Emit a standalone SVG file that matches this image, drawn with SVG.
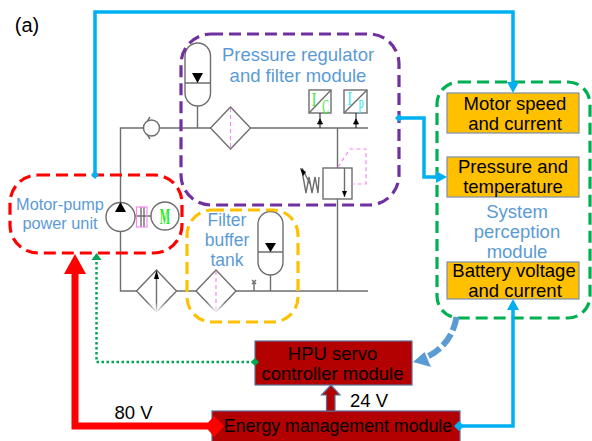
<svg xmlns="http://www.w3.org/2000/svg" width="592" height="441" viewBox="0 0 592 441">
<style>
text{font-family:"Liberation Sans",Arial,sans-serif;text-anchor:middle}
.lbl{fill:#5b9bd5;font-size:18.500px}
.blk{fill:#000;font-size:18.500px}
.box{fill:none;stroke-width:3.200;stroke-dasharray:12 6}
.org{fill:#ffc000;stroke:#7f8ea8;stroke-width:1.200}
.dred{fill:#b30000;stroke:#5b6f9a;stroke-width:1.200}
.h{fill:none;stroke:#6e6e6e;stroke-width:1.400}
.w{fill:#fff;stroke:#6e6e6e;stroke-width:1.400}
.p{fill:none;stroke:#f08cf0;stroke-width:1.200;stroke-dasharray:4 3}
.cy{fill:none;stroke:#00b0f0;stroke-width:3.500}
.cyf{fill:#00b0f0}
.ser{font-family:"Liberation Serif",serif}
</style>
<defs>
<linearGradient id="fade" x1="0" y1="0" x2="0" y2="1"><stop offset="0" stop-color="#fff" stop-opacity="0"/><stop offset="1" stop-color="#fff"/></linearGradient>
</defs>
<rect width="592" height="441" fill="#fff"/>
<g id="hydraulics">
<path class="h" d="M368 128H120.500V202M120.500 232V291H368M337.500 128V168M337.500 199V291"/>
<path class="h" d="M150 117L143 128L150 139"/>
<circle class="w" cx="151.500" cy="128" r="8"/>
<path class="h" d="M185 56A12.750 13 0 0 1 210.500 56V93A12.750 13 0 0 1 185 93ZM185 83H210.500M197.500 106V128"/>
<path d="M192 73H203L197.500 83Z"/>
<path class="w" d="M210.500 128L230.500 107L250.500 128L230.500 149Z"/>
<path class="p" d="M230.500 108V148"/>
<rect class="h" x="309" y="90" width="22" height="23"/>
<path class="h" d="M309 113L331 90"/>
<rect class="h" x="344" y="90" width="23" height="23"/>
<path class="h" d="M344 113L367 90"/>
<g class="ser">
<text class="ser" transform="translate(314 106) scale(1 1.300)" font-size="14" style="fill:#33e833">I</text>
<text class="ser" transform="translate(325.500 112.500) scale(.7 1.300)" font-size="14" style="fill:#33e833">C</text>
<text class="ser" transform="translate(349.500 105) scale(1 1.300)" font-size="14" style="fill:#33e8f0">I</text>
<text class="ser" transform="translate(361 112.500) scale(.7 1.300)" font-size="14" style="fill:#33e8f0">P</text>
</g>
<path d="M320 113V128M356 113V128" stroke="#333" stroke-width="1.200"/>
<path d="M317.500 124H322.500L320 119ZM353.500 124H358.500L356 119Z" stroke="#000" stroke-width=".8"/>
<rect class="w" x="323" y="168" width="29" height="31"/>
<path class="h" d="M344.500 168V197"/>
<path d="M342 191H347L344.500 197Z"/>
<path class="p" d="M338 167L350 149H366V184H352"/>
<path class="h" d="M302 171L306 193L309 177L312 193L315 177L318 193L319 177M302 168L310 184"/>
<path d="M300 168L306 172L303 176Z"/>
<circle class="w" cx="120.500" cy="217" r="14.500"/>
<path d="M115 212H126L120.500 202Z"/>
<path class="h" d="M135 216H151M141 207V227M144 207V227"/>
<rect x="136.500" y="207" width="10.500" height="20" fill="none" stroke="#f08cf0" stroke-width="1.200"/>
<circle class="w" cx="165" cy="216" r="14"/>
<text class="ser" transform="translate(165 224) scale(.55 1.150)" font-size="20" style="fill:#22ee22;font-weight:bold">M</text>
<path class="w" d="M136.500 291L156.500 270L176.500 291L156.500 312Z"/>
<path class="h" d="M156.500 275V310"/>
<path d="M154 279H159L156.500 270Z"/>
<path class="w" d="M196 291L216 270L236 291L216 312Z"/>
<path class="p" d="M216 271V311"/>
<rect x="136" y="302" width="100" height="11" fill="url(#fade)"/>
<path class="h" d="M258 224A12.500 12.500 0 0 1 283 224V262A12.500 13 0 0 1 258 262ZM258 252H283M270.500 275V291"/>
<path d="M265 243H276L270.500 252Z"/>
<path class="h" d="M254 291V283M252 280L256 284M256 280L252 284"/>
</g>
<g id="motor-pump-power-unit">
<rect class="box" x="10" y="175" width="172" height="78" rx="28" stroke="#ff0000"/>
<text class="lbl" style="font-size:16.300px" x="60" y="210">Motor-pump</text>
<text class="lbl" style="font-size:16.300px" x="60" y="229">power unit</text>
</g>
<g id="pressure-regulator-and-filter-module">
<rect class="box" x="181" y="34" width="218" height="171" rx="30" stroke="#7030a0"/>
<text class="lbl" x="298" y="61">Pressure regulator</text>
<text class="lbl" x="298" y="82">and filter module</text>
</g>
<g id="filter-buffer-tank">
<rect class="box" x="187" y="210" width="111" height="112" rx="25" stroke="#ffc000"/>
<text class="lbl" style="font-size:17.500px" x="227" y="226">Filter</text>
<text class="lbl" style="font-size:17.500px" x="227" y="246">buffer</text>
<text class="lbl" style="font-size:17.500px" x="227" y="266">tank</text>
</g>
<g id="system-perception-module">
<rect class="box" x="437" y="82" width="153" height="236" rx="22" stroke="#00b050"/>
<text class="lbl" x="517" y="218">System</text>
<text class="lbl" x="517" y="238">perception</text>
<text class="lbl" x="517" y="258">module</text>
</g>
<g id="motor-speed-and-current">
<rect class="org" x="447" y="93" width="132" height="40"/>
<text class="blk" x="515" y="110">Motor speed</text>
<text class="blk" x="515" y="130">and current</text>
</g>
<g id="pressure-and-temperature">
<rect class="org" x="447" y="157" width="132" height="40"/>
<text class="blk" x="513" y="173">Pressure and</text>
<text class="blk" x="513" y="193">temperature</text>
</g>
<g id="battery-voltage-and-current">
<rect class="org" x="447" y="262" width="132" height="37"/>
<text class="blk" x="514" y="277">Battery voltage</text>
<text class="blk" x="515" y="297">and current</text>
</g>
<g id="hpu-servo-controller-module">
<rect class="dred" x="255" y="341" width="157" height="44"/>
<text class="blk" x="332.500" y="360">HPU servo</text>
<text class="blk" x="332.500" y="380">controller module</text>
</g>
<g id="energy-management-module">
<rect class="dred" x="212" y="411" width="248" height="31"/>
<text class="blk" style="font-size:17.800px" x="338" y="432">Energy management module</text>
</g>
<g id="connectors">
<path class="cy" d="M95 175V12H513V84"/>
<path class="cyf" d="M95 171L99 175L95 179L91 175ZM507 82H519L513 93Z"/>
<path class="cy" d="M399 118H424V177H438"/>
<path class="cyf" d="M399 114L403 118L399 122L395 118ZM436 171L447 177L436 183Z"/>
<path class="cy" d="M460 426H513V308"/>
<path class="cyf" d="M459 421L464 426L459 431L454 426ZM507 310H519L513 299Z"/>
<path d="M213 426H75V272" fill="none" stroke="#ff0000" stroke-width="7"/>
<path d="M64 274H86L75 254Z" fill="#ff0000"/>
<path d="M205 426L214 416L224 426L214 437Z" fill="#ff0000"/>
<path d="M254 362H96.500V260" fill="none" stroke="#00a651" stroke-width="2.500" stroke-dasharray="2.500 2.500"/>
<path d="M91.500 260H101.500L96.500 253Z" fill="#00a651"/>
<path d="M251 362L255 358L259 362L255 366Z" fill="#00a651"/>
<path d="M456.500 317C454 333 445 348 427 357" fill="none" stroke="#5b9bd5" stroke-width="6" stroke-dasharray="14 4"/>
<path d="M413 362L424.500 352L431 367Z" fill="#5b9bd5"/>
<path d="M326.500 411V395H321.500L331 385L340 395H335V411Z" fill="#b30000" stroke="#5b6f9a" stroke-width="1.200"/>
<text class="blk" x="133.500" y="419">80 V</text>
<text class="blk" x="369" y="407">24 V</text>
</g>
<text x="27" y="32" style="fill:#000;font-size:20px">(a)</text>
</svg>
